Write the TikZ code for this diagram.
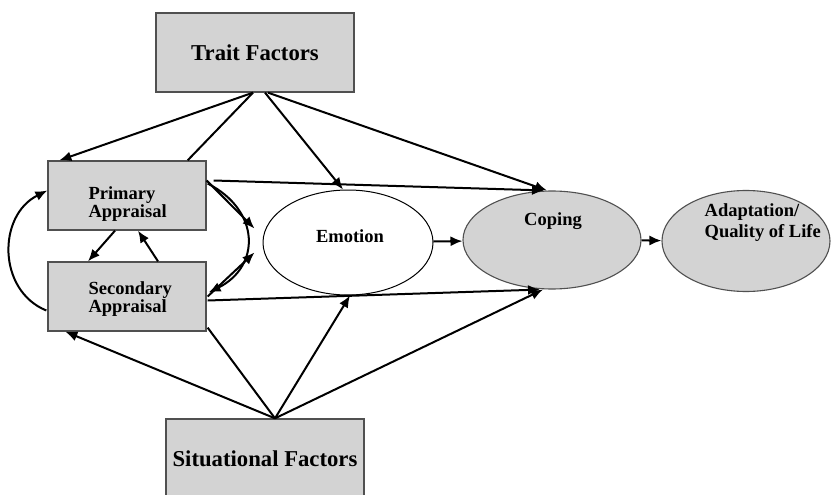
\documentclass[tikz,border=0pt]{standalone}
\usepackage{fontspec}
\setmainfont{Liberation Serif}
\usetikzlibrary{arrows.meta,shapes.geometric,calc}
\definecolor{boxfill}{RGB}{211,211,211}
\definecolor{boxline}{RGB}{80,80,80}
\begin{document}
\begin{tikzpicture}[x=1pt,y=-1pt,
  factor/.style={draw=boxline,line width=1.3pt,fill=boxfill,minimum width=198pt,
    minimum height=79pt,inner sep=0pt,font=\fontsize{22.7}{26}\selectfont\bfseries},
  apprbox/.style={draw=boxline,line width=1.3pt,fill=boxfill,minimum width=158pt,
    minimum height=69pt,inner sep=0pt},
  oval/.style={ellipse,draw=boxline,line width=1.1pt,fill=boxfill,inner sep=0pt},
  lbl/.style={inner sep=0pt,font=\fontsize{18.5}{18.5}\selectfont\bfseries},
  link/.style={line width=2pt},
  arr/.style={link,-{Latex[length=12pt,width=10pt]}}]

\useasboundingbox (0,0) rectangle (831,495);
\clip (0,0) rectangle (831,495);

% boxes and ovals
\node[factor] (trait) at (255,52.5) {Trait Factors};
\node[apprbox] (prim) at (127,195.5) {};
\node[apprbox] (sec) at (127,296.5) {};
\node[factor,minimum height=80pt] (sit) at (265,459) {Situational Factors};
\node[ellipse,draw=black,line width=1pt,fill=white,minimum width=170pt,
      minimum height=105pt,inner sep=0pt] (emo) at (348,242.5) {};
\node[oval,minimum width=178pt,minimum height=98pt] (cop) at (552,240) {};
\node[oval,minimum width=168pt,minimum height=101pt] (ada) at (746,241) {};

% labels
\node[lbl,anchor=north west,align=left] (primt) at ($(prim.north west)+(41,26)$) {Primary\\Appraisal};
\node[lbl,anchor=north west,align=left] (sect) at ($(sec.north west)+(41,20)$) {Secondary\\Appraisal};
\node[lbl] (emot) at ($(emo.center)+(2,-6)$) {Emotion};
\node[lbl] (copt) at ($(cop.center)+(1,-19)$) {Coping};
\node[lbl,anchor=north west,align=left,font=\fontsize{18.5}{20.7}\selectfont\bfseries]
  (adat) at ($(ada.west)+(43,-37.5)$) {Adaptation/\\Quality of Life};

% trait factors
\draw[arr] ($(trait.south)+(-2,0)$) -- ($(prim.north west)+(12,0)$);
\draw[link] ($(trait.south)+(-2,0)$) -- ($(prim.north east)+(-19,0)$);
\draw[arr] ($(trait.south)+(10,0)$) -- ($(emo.north)+(-5,0)$);
\draw[arr] ($(trait.south)+(13,0)$) -- ($(cop.north)+(-5,0)$);

% appraisals
\draw[arr] ($(prim.east)+(7,-15)$) -- ($(cop.north)+(-8,0)$);
\draw[arr] ($(prim.east)+(0,-15)$) -- ($(emo.west)+(-8,-14)$);
\draw[arr] ($(prim.east)+(1,-12)$) .. controls ($(prim.east)+(54,15)$) and ($(sec.east)+(54,-30)$) .. ($(sec.east)+(2,-4)$);
\draw[arr] ($(sec.east)+(1,0)$) -- ($(emo.west)+(-8,10)$);
\draw[arr] ($(sec.east)+(1,4)$) -- ($(cop.south)+(-12,0)$);
\draw[arr] ($(prim.south)+(-12,0)$) -- ($(sec.north)+(-39,0)$);
\draw[arr] ($(sec.north)+(31,0)$) -- ($(prim.south)+(11,0)$);
\draw[arr] ($(sec.west)+(-1,14)$) .. controls ($(sec.west)+(-50,-6)$) and ($(prim.west)+(-50,20)$) .. ($(prim.west)+(0,-5)$);

% emotion, coping, adaptation
\draw[arr] (emo) -- (cop);
\draw[arr] (cop) -- (ada);

% situational factors
\draw[arr] ($(sit.north)+(10,0)$) -- ($(sec.south west)+(18,0)$);
\draw[link] ($(sit.north)+(10,0)$) -- ($(sec.south east)+(1,-4)$);
\draw[arr] ($(sit.north)+(10,0)$) -- ($(emo.south)+(2,0)$);
\draw[arr] ($(sit.north)+(10,0)$) -- ($(cop.south)+(-9,0)$);
\end{tikzpicture}
\end{document}
